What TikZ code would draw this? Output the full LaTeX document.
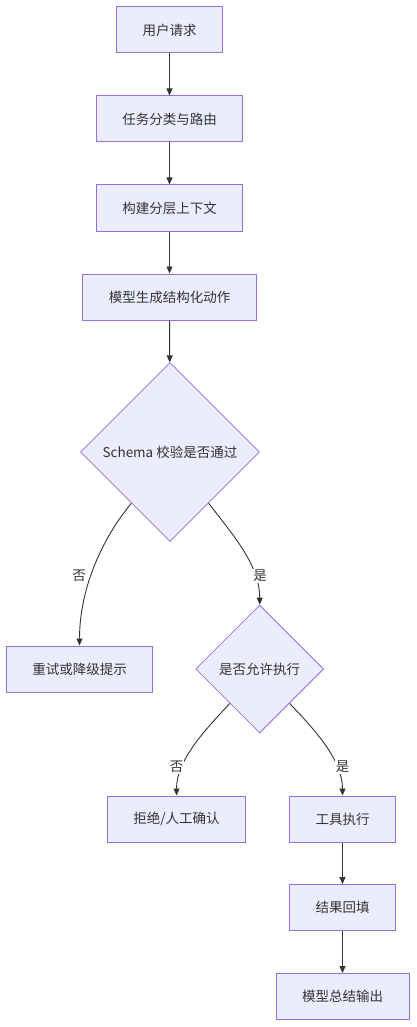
\documentclass[tikz,border=0pt]{standalone}
\usepackage{fontspec}
\setmainfont{Noto Sans CJK SC}
\usetikzlibrary{shapes.geometric,arrows.meta}
\definecolor{boxfill}{HTML}{ECECFF}
\definecolor{boxline}{HTML}{9370DB}
\definecolor{ink}{HTML}{333333}
\begin{document}
\begin{tikzpicture}[x=1pt, y=-1pt, font=\fontsize{13.5}{16}\selectfont, text=ink,
 box/.style={draw=boxline, fill=boxfill, line width=1pt, minimum height=46pt, inner xsep=26pt, inner ysep=0pt},
 choice/.style={diamond, aspect=1, draw=boxline, fill=boxfill, line width=0.8pt, inner sep=0pt},
 lbl/.style={fill=white, inner sep=1pt}]

\useasboundingbox (0,0) rectangle (417,1027);

\node[box] (req) at (169.5,30) {用户请求};
\node[box] (route) at (169.5,119) {任务分类与路由};
\node[box] (ctx) at (169.5,208) {构建分层上下文};
\node[box] (gen) at (169.5,297) {模型生成结构化动作};

\node[choice, minimum size=179pt] (chk) at (170,452) {Schema 校验是否通过};

\node[box] (retry) at (79.5,669) {重试或降级提示};
\node[choice, minimum size=128pt] (ok) at (259.7,669) {是否允许执行};

\node[box] (deny) at (176.5,819) {拒绝/人工确认};
\node[box] (tool) at (342.5,819) {工具执行};
\node[box] (fill) at (342.5,907.5) {结果回填};
\node[box] (sum) at (342.5,996.5) {模型总结输出};

 \begin{scope}[ink, line width=0.9pt, -{Triangle[length=7pt,width=6pt]}]
\foreach \a/\b in {req/route,route/ctx,ctx/gen,gen/chk,tool/fill,fill/sum}
\draw (\a) -- (\b);
 \draw (chk.233) .. controls (105,535) and (79.5,585) .. (retry.north);
 \draw (chk.307) .. controls (233,535) and (259.7,565) .. (ok.north);
 \draw (ok.229) .. controls (205,730) and (176.5,760) .. (deny.north);
 \draw (ok.311) .. controls (315,730) and (342.5,760) .. (tool.north);
 \end{scope}

\node[lbl] (no1) at (79,576) {否};
\node[lbl] (yes1) at (260,576) {是};
\node[lbl] (no2) at (176.5,767) {否};
\node[lbl] (yes2) at (342.5,767) {是};
\end{tikzpicture}
\end{document}
